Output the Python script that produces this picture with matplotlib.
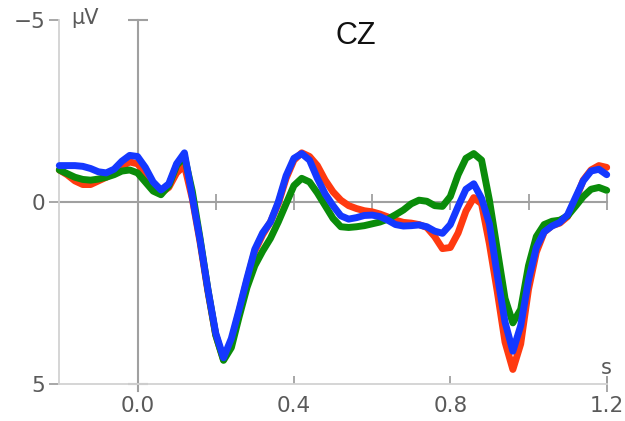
import numpy as np
import matplotlib
matplotlib.use("Agg")
import matplotlib.pyplot as plt

# ---- data (µV, negative up) ----
times = np.round(np.arange(-0.20, 1.2001, 0.02), 2)

red = [-0.88, -0.75, -0.58, -0.48, -0.48, -0.58, -0.68, -0.80, -0.98, -1.10,
       -1.05, -0.80, -0.45, -0.25, -0.40, -0.80, -1.00, -0.10, 1.10, 2.45,
       3.65, 4.33, 3.85, 3.00, 2.15, 1.35, 0.90, 0.55, 0.05, -0.65,
       -1.15, -1.35, -1.25, -1.00, -0.60, -0.28, -0.05, 0.10, 0.18, 0.24,
       0.27, 0.33, 0.41, 0.50, 0.56, 0.58, 0.62, 0.70, 0.95, 1.28,
       1.25, 0.85, 0.25, -0.12, 0.05, 1.15, 2.45, 3.85, 4.60, 3.90,
       2.40, 1.38, 0.83, 0.65, 0.58, 0.40, -0.05, -0.60, -0.88, -1.00,
       -0.95]

green = [-0.88, -0.78, -0.68, -0.62, -0.60, -0.63, -0.68, -0.75, -0.85, -0.88,
         -0.80, -0.55, -0.30, -0.20, -0.45, -1.00, -1.25, -0.30, 1.00, 2.40,
         3.65, 4.35, 4.00, 3.15, 2.35, 1.75, 1.35, 1.00, 0.55, 0.05,
         -0.45, -0.65, -0.55, -0.25, 0.10, 0.45, 0.68, 0.70, 0.68, 0.65,
         0.60, 0.55, 0.47, 0.35, 0.22, 0.05, -0.05, -0.02, 0.10, 0.12,
         -0.15, -0.75, -1.20, -1.33, -1.15, -0.05, 1.30, 2.65, 3.32, 2.95,
         1.75, 0.95, 0.62, 0.53, 0.50, 0.38, 0.12, -0.15, -0.35, -0.40,
         -0.32]

blue = [-1.00, -1.00, -1.00, -0.98, -0.92, -0.83, -0.80, -0.90, -1.12, -1.28,
        -1.25, -0.95, -0.55, -0.33, -0.50, -1.05, -1.35, -0.15, 1.05, 2.40,
        3.60, 4.28, 3.75, 2.95, 2.10, 1.30, 0.85, 0.55, 0.00, -0.72,
        -1.20, -1.33, -1.15, -0.65, -0.22, 0.10, 0.38, 0.47, 0.43, 0.37,
        0.36, 0.40, 0.50, 0.62, 0.66, 0.65, 0.63, 0.68, 0.80, 0.86,
        0.62, 0.12, -0.35, -0.50, -0.10, 0.60, 2.00, 3.30, 4.10, 3.40,
        2.15, 1.25, 0.82, 0.66, 0.56, 0.35, -0.12, -0.58, -0.85, -0.90,
        -0.75]

xticks = [0.0, 0.4, 0.8, 1.2]
xticklabels = ["0.0", "0.4", "0.8", "1.2"]
yticks = [-5, 0, 5]
yticklabels = ["\u22125", "0", "5"]
title = "CZ"

# ---- figure ----
W, H = 625, 421
fig = plt.figure(figsize=(W / 100, H / 100), dpi=100)
ax = fig.add_axes([59.3 / W, 37 / H, 547.4 / W, 364 / H])
ax.set_xlim(-0.2, 1.2)
ax.set_ylim(5, -5)

light = "#d2d2d2"
mid = "#a0a0a0"
txt = "#5a5a5a"

for s in ["top", "right"]:
    ax.spines[s].set_visible(False)
for s in ["left", "bottom"]:
    ax.spines[s].set_color(light)
    ax.spines[s].set_linewidth(1.3)

ax.set_xticks(xticks)
ax.set_xticklabels(xticklabels)
ax.set_yticks(yticks)
ax.set_yticklabels(yticklabels)
ax.tick_params(axis="x", direction="in", length=6, width=1.3, color=mid,
               labelsize=15.5, labelcolor=txt, pad=9)
ax.tick_params(axis="y", direction="out", length=7, width=1.3, color=mid,
               labelsize=15.5, labelcolor=txt, pad=3)

# zero line and vertical line at t=0
ax.plot([-0.2, 1.2], [0, 0], color=mid, lw=1.5, zorder=1, clip_on=False)
ax.plot([0.2, 0.4, 0.6, 0.8, 1.0, 1.2], [0] * 6, ls="none", marker="|",
        ms=12, mew=1.3, color=mid, zorder=1, clip_on=False)
ax.plot([0, 0], [-5, 5.2], color=mid, lw=1.5, zorder=1, clip_on=False)
ax.plot([0, 0], [-5, 5], ls="none", marker="_", ms=14, mew=1.5, color=mid,
        zorder=1, clip_on=False)
ax.plot([1.2], [5], ls="none", marker="|", ms=12, mew=1.3, color=mid,
        zorder=1, clip_on=False)

# data lines
style = dict(lw=5.0, solid_capstyle="round", solid_joinstyle="round",
             clip_on=False)
ax.plot(times, red, color="#ff3a10", zorder=3, **style)
ax.plot(times, green, color="#0a8c0a", zorder=4, **style)
ax.plot(times, blue, color="#1438ff", zorder=5, **style)

# labels
ax.text(-0.17, -5.05, "\u00b5V", fontsize=15, color=txt, ha="left",
        va="center", family="DejaVu Sans")
ax.text(1.2, 4.55, "s", fontsize=15, color=txt, ha="center", va="center",
        family="DejaVu Sans")
fig.text(356 / W, 1 - 36 / H, title, fontsize=22, color="#111111",
         ha="center", va="center", family="Liberation Sans")

fig.savefig("out.png", dpi=100)
